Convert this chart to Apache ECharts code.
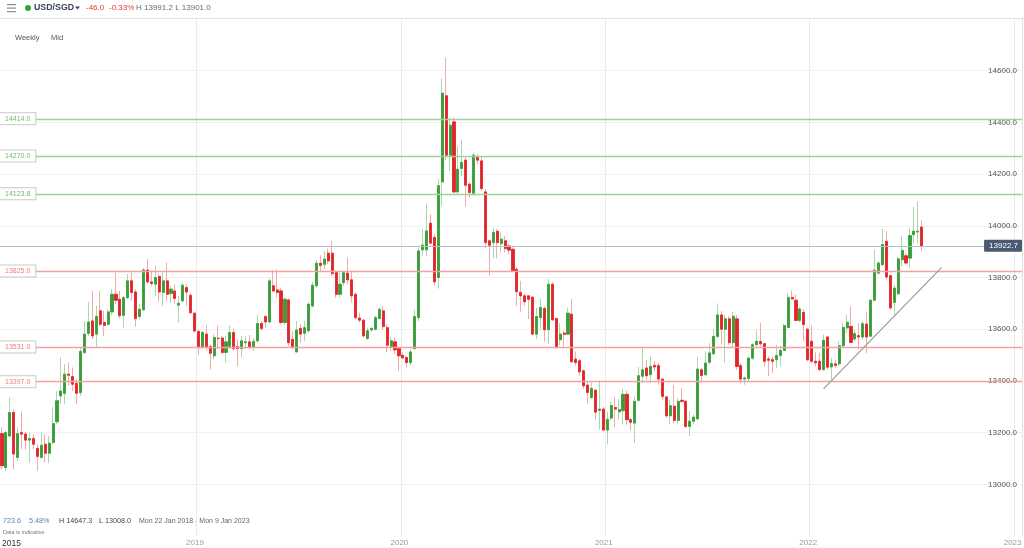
<!DOCTYPE html>
<html>
<head>
<meta charset="utf-8">
<script src="https://cdn.jsdelivr.net/npm/echarts@6/dist/echarts.min.js"></script>
<style>
html,body{margin:0;padding:0;background:#ffffff;}
#chart{width:1024px;height:548px;}
</style>
</head>
<body>
<div id="chart"></div>
<script>
// ---- categories: weekly candles, Mon 22 Jan 2018 .. Mon 9 Jan 2023 ----
const firstWeek = '2018-01-22';
const weekCount = 260;

// ---- series values (USD/SGD weekly, x10000) ----
const opens = [
13196,13065,13187,13278,13104,13200,13194,13171,13177,13139,13104,13155,13120,13162,13242,13342,13352,13426,13417,13391,
13355,13510,13584,13632,13581,13671,13626,13619,13667,13735,13716,13654,13722,13787,13744,13649,13675,13829,13783,13774,
13804,13742,13787,13738,13748,13693,13710,13761,13731,13662,13591,13529,13581,13533,13497,13565,13566,13510,13533,13587,
13533,13525,13548,13551,13529,13555,13622,13649,13628,13768,13752,13748,13626,13713,13561,13512,13603,13584,13594,13690,
13768,13855,13851,13894,13894,13819,13735,13780,13817,13791,13735,13643,13635,13564,13597,13600,13641,13671,13606,13533,
13551,13525,13499,13490,13471,13525,13645,13907,13907,14010,13955,13800,14170,14503,14273,14402,14131,14222,14254,14161,
14126,14268,14251,14131,13942,13935,13979,13931,13942,13922,13909,13832,13742,13729,13729,13724,13581,13645,13680,13598,
13774,13641,13559,13585,13581,13658,13484,13478,13439,13384,13336,13364,13286,13291,13210,13256,13297,13280,13285,13348,
13250,13237,13325,13418,13450,13424,13460,13459,13407,13338,13265,13302,13247,13325,13321,13224,13244,13253,13443,13424,
13472,13505,13572,13655,13600,13640,13548,13640,13459,13407,13409,13488,13540,13553,13544,13485,13482,13482,13498,13518,
13607,13723,13712,13634,13665,13600,13553,13476,13476,13444,13570,13454,13466,13466,13536,13605,13611,13562,13575,13570,
13620,13573,13712,13817,13850,13940,13807,13704,13737,13869,13884,13875,13966,13976,13995
];
const closes = [
13072,13200,13278,13117,13196,13194,13171,13177,13155,13108,13151,13120,13159,13235,13323,13361,13426,13422,13387,13352,
13514,13581,13628,13574,13649,13619,13615,13667,13735,13712,13652,13722,13787,13742,13641,13677,13829,13783,13777,13800,
13744,13787,13735,13755,13719,13700,13770,13744,13664,13593,13529,13587,13533,13507,13568,13564,13510,13551,13587,13525,
13525,13555,13551,13529,13553,13622,13603,13628,13787,13748,13742,13626,13716,13548,13529,13597,13581,13606,13697,13770,
13855,13847,13871,13864,13815,13735,13774,13819,13791,13729,13645,13635,13574,13594,13603,13645,13677,13610,13538,13555,
13520,13497,13489,13471,13512,13649,13903,13925,13980,13933,13783,14155,14513,14273,14389,14131,14219,14245,14157,14129,
14273,14254,14144,13935,13925,13974,13935,13948,13912,13906,13826,13745,13729,13706,13716,13581,13649,13684,13598,13774,
13636,13529,13581,13580,13662,13474,13471,13435,13381,13355,13371,13279,13291,13210,13251,13305,13291,13289,13348,13250,
13240,13321,13420,13443,13420,13456,13454,13407,13340,13265,13304,13247,13321,13321,13224,13244,13260,13446,13421,13469,
13508,13572,13655,13600,13640,13548,13650,13456,13407,13411,13488,13540,13553,13544,13476,13480,13476,13498,13518,13614,
13723,13717,13634,13678,13618,13482,13476,13470,13444,13557,13453,13467,13460,13536,13607,13627,13549,13583,13570,13621,
13570,13712,13828,13856,13927,13802,13682,13759,13872,13905,13856,13962,13979,13979,13922.7
];
const lows = [
13059,13050,13181,13059,13091,13136,13133,13082,13136,13052,13100,13084,13082,13155,13233,13310,13310,13381,13361,13310,
13342,13503,13574,13561,13529,13613,13574,13613,13654,13697,13641,13606,13716,13710,13610,13639,13671,13774,13768,13729,
13706,13690,13710,13703,13697,13626,13703,13690,13658,13587,13499,13523,13516,13445,13484,13523,13503,13471,13523,13516,
13456,13490,13523,13523,13516,13548,13594,13606,13623,13742,13722,13619,13615,13535,13523,13510,13548,13555,13587,13684,
13761,13822,13832,13851,13806,13722,13722,13768,13774,13703,13639,13626,13568,13559,13590,13594,13639,13597,13510,13516,
13503,13439,13484,13452,13461,13520,13632,13884,13881,13925,13770,13757,14077,14255,14213,14126,14126,14191,14075,14109,
14116,14238,14135,13912,13807,13874,13874,13897,13897,13890,13822,13690,13665,13690,13639,13577,13562,13598,13551,13542,
13632,13525,13536,13533,13577,13471,13458,13420,13370,13312,13329,13250,13211,13205,13155,13247,13220,13250,13231,13231,
13209,13160,13321,13392,13405,13392,13437,13385,13327,13256,13231,13237,13231,13314,13218,13186,13231,13250,13394,13418,
13463,13501,13565,13540,13470,13540,13530,13443,13392,13385,13398,13482,13535,13534,13456,13418,13431,13450,13456,13516,
13605,13714,13631,13627,13553,13476,13469,13456,13437,13437,13444,13405,13450,13456,13527,13585,13547,13553,13521,13560,
13508,13570,13708,13811,13843,13792,13676,13656,13734,13843,13850,13837,13933,13933,13901
];
const highs = [
13220,13207,13336,13291,13220,13282,13203,13200,13194,13155,13200,13194,13187,13297,13361,13490,13465,13471,13452,13407,
13529,13632,13706,13748,13690,13748,13671,13677,13755,13819,13748,13729,13813,13819,13755,13697,13838,13871,13826,13847,
13813,13819,13858,13768,13774,13729,13780,13774,13742,13664,13600,13593,13615,13542,13581,13613,13574,13574,13615,13600,
13561,13574,13574,13578,13566,13654,13632,13654,13796,13829,13832,13761,13722,13719,13593,13632,13619,13632,13703,13783,
13868,13886,13903,13912,13942,13826,13819,13826,13877,13826,13742,13664,13639,13606,13610,13652,13684,13690,13619,13568,
13568,13529,13510,13497,13523,13675,13916,13987,14087,14045,13968,14180,14570,14651,14419,14419,14307,14332,14264,14167,
14283,14277,14270,14142,13948,13990,13987,13974,13961,13929,13916,13839,13787,13739,13732,13729,13684,13719,13690,13793,
13781,13645,13623,13594,13684,13716,13513,13484,13445,13397,13394,13370,13402,13299,13282,13321,13336,13330,13370,13362,
13256,13340,13454,13531,13482,13495,13476,13469,13411,13340,13327,13385,13334,13372,13325,13282,13269,13492,13450,13514,
13546,13600,13700,13670,13655,13650,13668,13655,13469,13418,13495,13546,13598,13624,13549,13495,13493,13540,13534,13621,
13737,13750,13734,13686,13678,13605,13614,13510,13508,13579,13573,13489,13482,13553,13624,13656,13689,13598,13624,13631,
13669,13717,13908,13863,13988,13979,13811,13772,13879,13959,13895,13991,14073,14095,14021
];

// ---- axis ticks / labels ----
const yearTickDates  = ['2018-01-22','2019-01-07','2020-01-06','2021-01-04','2022-01-03','2023-01-02'];
const yearTickLabels = ['2015','2019','2020','2021','2022','2023'];
const priceMin = 12800, priceMax = 14800, priceStep = 200;

// ---- horizontal levels, current price, trend line ----
const resistanceLevels = [14414.0, 14270.0, 14123.8];
const supportLevels    = [13825.0, 13531.0, 13397.0];
const currentPrice = 13922.7;
const trendStart = [209, 13369];
const trendEnd   = [239, 13838];

// ---- build ----
const dates = [];
const t0 = Date.parse(firstWeek + 'T00:00:00Z');
for (let i = 0; i < weekCount; i++) dates.push(new Date(t0 + i * 7 * 86400000).toISOString().slice(0, 10));
const yearIdx = yearTickDates.map(d => dates.indexOf(d));

const ohlc = opens.map((o, i) => [o, closes[i], lows[i], highs[i]]);
const bodies = opens.map((o, i) => [o, closes[i], Math.min(o, closes[i]), Math.max(o, closes[i])]);

const FONT = '"Liberation Sans", Arial, sans-serif';

function levelSeries(name, values, color, width) {
  return {
    type: 'line', name: name, data: [], silent: true, z: 2,
    markLine: {
      silent: true, symbol: ['none', 'none'], label: { show: false },
      emphasis: { disabled: true }, animation: false,
      lineStyle: { color: color, width: width, type: 'solid', opacity: 1 },
      data: values.map(v => ({ yAxis: v }))
    }
  };
}

const chart = echarts.init(document.getElementById('chart'), null, { renderer: 'canvas' });
chart.setOption({
  animation: false,
  backgroundColor: '#ffffff',
  grid: { left: 0, right: 2, top: 19, bottom: 12, containLabel: false, outerBoundsMode: 'none' },
  xAxis: {
    type: 'category',
    data: dates,
    boundaryGap: true,
    axisLine: { show: false },
    axisTick: { show: false },
    splitLine: {
      show: true,
      interval: (idx) => yearIdx.indexOf(idx) > 0,
      lineStyle: { color: '#ebebeb', width: 1 }
    },
    axisLabel: {
      interval: (idx) => yearIdx.indexOf(idx) >= 0,
      margin: 3,
      fontSize: 8,
      fontFamily: FONT,
      alignMinLabel: 'left',
      formatter: (v, idx) => {
        const k = yearIdx.indexOf(idx);
        if (k < 0) return '';
        return (k === 0 ? '{a|' : '{b|') + yearTickLabels[k] + '}';
      },
      rich: {
        a: { color: '#333333', fontSize: 8.5, fontFamily: FONT },
        b: { color: '#9a9a9a', fontSize: 8, fontFamily: FONT, padding: [0, 7, 0, 0] }
      }
    }
  },
  yAxis: [
    {
      type: 'value', position: 'right',
      min: priceMin, max: priceMax, interval: priceStep,
      axisLine: { show: true, lineStyle: { color: '#e2e2e2' } },
      axisTick: { show: false },
      splitLine: { show: true, showMinLine: false, showMaxLine: false, lineStyle: { color: '#f1f1f1' } },
      axisLabel: {
        inside: true, margin: 5, fontSize: 8, color: '#555555', fontFamily: FONT,
        formatter: v => (v <= priceMin || v >= priceMax) ? '' : v.toFixed(1)
      }
    },
    {
      type: 'value', position: 'left', z: 10,
      min: priceMin, max: priceMax,
      axisLine: { show: false }, axisTick: { show: false }, splitLine: { show: false },
      axisLabel: {
        inside: true, margin: 0, fontSize: 7, fontFamily: FONT,
        customValues: resistanceLevels.concat(supportLevels),
        formatter: v => v.toFixed(1),
        color: v => (v > currentPrice ? '#6fbc6f' : '#ec7f7f'),
        backgroundColor: '#ffffff', borderColor: '#c9c9c9', borderWidth: 1,
        padding: [2, 5, 2, 5]
      }
    },
    {
      type: 'value', position: 'right', z: 10,
      min: priceMin, max: priceMax,
      axisLine: { show: false }, axisTick: { show: false }, splitLine: { show: false },
      axisLabel: {
        inside: true, margin: 0, fontSize: 8, fontFamily: FONT, color: '#ffffff',
        customValues: [currentPrice],
        formatter: v => v.toFixed(1),
        backgroundColor: '#4b5a71', borderRadius: 1,
        padding: [2, 4, 2, 5]
      }
    }
  ],
  series: [
    levelSeries('resistance', resistanceLevels, '#9ad49a', 1.3),
    levelSeries('support', supportLevels, '#f5a0a0', 1.3),
    levelSeries('current', [currentPrice], '#b6bfcd', 1.1),
    {
      type: 'candlestick', name: 'range', data: ohlc, z: 3, silent: true,
      barWidth: 2.6,
      itemStyle: { color: '#a8d9a8', color0: '#f4a9a9', borderColor: '#a8d9a8', borderColor0: '#f4a9a9', borderWidth: 1 },
      markLine: {
        silent: true, symbol: ['none', 'none'], label: { show: false },
        emphasis: { disabled: true },
        lineStyle: { color: '#9a9a9a', width: 1.2, type: 'solid' },
        data: [[{ coord: trendStart }, { coord: trendEnd }]]
      }
    },
    {
      type: 'candlestick', name: 'body', data: bodies, z: 4, silent: true,
      barWidth: 2.6,
      itemStyle: { color: '#3a9d3a', color0: '#e1262a', borderColor: '#3a9d3a', borderColor0: '#e1262a', borderWidth: 0.8 }
    }
  ],
  graphic: [
    { type: 'line', shape: { x1: 0, y1: 18.5, x2: 1024, y2: 18.5 }, style: { stroke: '#e1e1e1', lineWidth: 1 } },
    { type: 'rect', shape: { x: 7, y: 4, width: 9, height: 1.2 }, style: { fill: '#8c8c8c' } },
    { type: 'rect', shape: { x: 7, y: 7.5, width: 9, height: 1.2 }, style: { fill: '#8c8c8c' } },
    { type: 'rect', shape: { x: 7, y: 11, width: 9, height: 1.2 }, style: { fill: '#8c8c8c' } },
    { type: 'circle', shape: { cx: 28, cy: 8, r: 3 }, style: { fill: '#34a834' } },
    { type: 'text', x: 34, y: 8, style: { text: 'USD/SGD', font: 'bold 8.8px ' + FONT, fill: '#3b4658', verticalAlign: 'middle' } },
    { type: 'polygon', shape: { points: [[75, 6.5], [80, 6.5], [77.5, 9.5]] }, style: { fill: '#3b4658' } },
    { type: 'text', x: 86, y: 8, style: { text: '-46.0', font: '8px ' + FONT, fill: '#e03c3c', verticalAlign: 'middle' } },
    { type: 'text', x: 109, y: 8, style: { text: '-0.33%', font: '8px ' + FONT, fill: '#e03c3c', verticalAlign: 'middle' } },
    { type: 'text', x: 136, y: 8, style: { text: 'H 13991.2 L 13901.0', font: '8px ' + FONT, fill: '#6a6a6a', verticalAlign: 'middle' } },
    { type: 'text', x: 15, y: 38, style: { text: 'Weekly', font: '7.5px ' + FONT, fill: '#555555', verticalAlign: 'middle' } },
    { type: 'text', x: 51, y: 38, style: { text: 'Mid', font: '7.5px ' + FONT, fill: '#555555', verticalAlign: 'middle' } },
    { type: 'text', x: 3, y: 521, style: { text: '723.6', font: '7.2px ' + FONT, fill: '#5b80b2', verticalAlign: 'middle' } },
    { type: 'text', x: 29, y: 521, style: { text: '5.48%', font: '7.2px ' + FONT, fill: '#5b80b2', verticalAlign: 'middle' } },
    { type: 'text', x: 59, y: 521, style: { text: 'H 14647.3', font: '7.2px ' + FONT, fill: '#444444', verticalAlign: 'middle' } },
    { type: 'text', x: 99, y: 521, style: { text: 'L 13008.0', font: '7.2px ' + FONT, fill: '#444444', verticalAlign: 'middle' } },
    { type: 'text', x: 139, y: 521, style: { text: 'Mon 22 Jan 2018 - Mon 9 Jan 2023', font: '7px ' + FONT, fill: '#666666', verticalAlign: 'middle' } },
    { type: 'text', x: 3, y: 532.5, style: { text: 'Data is indicative', font: '5.5px ' + FONT, fill: '#777777', verticalAlign: 'middle' } }
  ]
});
</script>
</body>
</html>
